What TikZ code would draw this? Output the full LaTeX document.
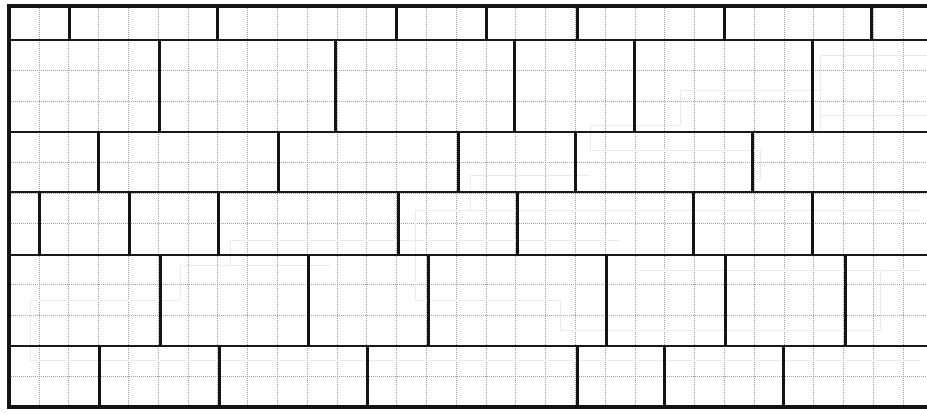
\documentclass[tikz,border=0pt]{standalone}
\begin{document}
\begin{tikzpicture}[x=1pt,y=-1pt,
  gridline/.style={draw=black!38, line width=0.7pt, dash pattern=on 1pt off 1pt},
  ghost/.style={draw=black!8, line width=1pt},
  joint/.style={draw=black!92, line width=3pt},
  course/.style={draw=black!90, line width=2.8pt},
  frame/.style={draw=black!92, line width=4pt}]
\useasboundingbox (0,0) rectangle (927,413);
\fill[white] (0,0) rectangle (927,413);
% graph paper
\foreach \k in {0,...,30} \draw[gridline] ({9.2+29.8*\k},6) -- ({9.2+29.8*\k},407);
\foreach \j in {0,...,12} \draw[gridline] (9,{40+30.58*\j}) -- (927,{40+30.58*\j});
% faint show-through
\draw[ghost] (820,130) -- (820,55) -- (927,55);
\draw[ghost] (820,115) -- (927,115);
\draw[ghost] (680,125) -- (680,90) -- (820,90);
\draw[ghost] (590,150) -- (590,125) -- (680,125);
\draw[ghost] (590,150) -- (760,150) -- (760,180);
\draw[ghost] (470,210) -- (470,175) -- (590,175);
\draw[ghost] (415,300) -- (415,210) -- (920,210);
\draw[ghost] (415,240) -- (620,240);
\draw[ghost] (230,240) -- (415,240);
\draw[ghost] (230,240) -- (230,265);
\draw[ghost] (180,300) -- (180,265) -- (330,265);
\draw[ghost] (180,300) -- (30,300) -- (30,360);
\draw[ghost] (30,360) -- (920,360);
\draw[ghost] (415,300) -- (560,300);
\draw[ghost] (560,300) -- (560,330) -- (880,330);
\draw[ghost] (880,270) -- (880,330);
\draw[ghost] (640,270) -- (920,270);
% courses
\draw[frame] (9,6) -- (927,6);
\draw[frame] (9,407) -- (927,407);
\draw[frame] (9,4) -- (9,409);
\foreach \y in {40,132,192,255,346} \draw[course] (9,\y) -- (927,\y);
% head joints
\foreach \x in {69,217,396,486,577,724,871} \draw[joint] (\x,6) -- (\x,40);
\foreach \x in {159,335,514,634,812} \draw[joint] (\x,40) -- (\x,132);
\foreach \x in {98,278,458,575,752} \draw[joint] (\x,132) -- (\x,192);
\foreach \x in {39,129,218,398,517,693,812} \draw[joint] (\x,192) -- (\x,255);
\foreach \x in {160,308,428,606,725,845} \draw[joint] (\x,255) -- (\x,346);
\foreach \x in {99,219,367,577,664,783} \draw[joint] (\x,346) -- (\x,407);
\end{tikzpicture}
\end{document}
